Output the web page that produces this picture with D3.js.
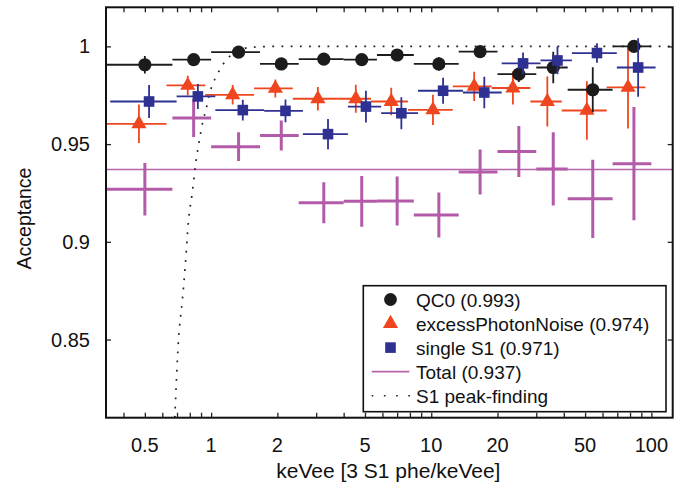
<!DOCTYPE html>
<html>
<head>
<meta charset="utf-8">
<script src="https://cdn.jsdelivr.net/npm/d3@7"></script>
<style>
  html, body { margin: 0; padding: 0; background: #fff; }
  svg { display: block; font-family: "Liberation Sans", Arial, Helvetica, sans-serif; }
</style>
</head>
<body>
<svg id="chart" width="683" height="488"></svg>
<script>
// ---------------- data ----------------
const binLo  = [0.333, 0.667, 1.0, 1.667, 2.5, 4.0, 5.667, 8.333, 13.33, 20, 30, 41.67, 66.67];
const binHi  = [0.667, 1.0, 1.667, 2.5, 4.0, 5.667, 8.333, 13.33, 20, 30, 41.67, 66.67, 100];
const binMid = [0.5, 0.833, 1.333, 2.083, 3.25, 4.833, 7.0, 10.83, 16.67, 25, 35.83, 54.17, 83.33];

const qc0Val   = [0.9906, 0.9932, 0.9971, 0.9910, 0.9935, 0.9932, 0.9956, 0.9910, 0.9973, 0.9858, 0.9892, 0.9778, 1.0000];
const qc0Err   = [0.0045, 0.0030, 0.0025, 0.0030, 0.0025, 0.0025, 0.0025, 0.0035, 0.0025, 0.0040, 0.0080, 0.0115, 0.0030];

const epnVal   = [0.9604, 0.9800, 0.9752, 0.9785, 0.9732, 0.9732, 0.9718, 0.9675, 0.9795, 0.9787, 0.9718, 0.9672, 0.9790];
const epnErr   = [0.0098, 0.0050, 0.0050, 0.0046, 0.0060, 0.0072, 0.0070, 0.0077, 0.0075, 0.0085, 0.0128, 0.0150, 0.0210];

const s1Val    = [0.9718, 0.9744, 0.9674, 0.9670, 0.9551, 0.9692, 0.9658, 0.9773, 0.9764, 0.9913, 0.9928, 0.9966, 0.9892];
const s1Err    = [0.0085, 0.0064, 0.0053, 0.0058, 0.0077, 0.0081, 0.0082, 0.0066, 0.0081, 0.0056, 0.0071, 0.0050, 0.0150];

const totVal   = [0.9269, 0.9633, 0.9487, 0.9544, 0.9200, 0.9207, 0.9209, 0.9137, 0.9357, 0.9462, 0.9373, 0.9220, 0.9400];
const totErr   = [0.0134, 0.0097, 0.0073, 0.0077, 0.0105, 0.0130, 0.0125, 0.0115, 0.0115, 0.0130, 0.0187, 0.0200, 0.0290];

const totalMean = 0.937;

const peakX = [0.684, 0.711, 0.740, 0.762, 0.789, 0.820, 0.849, 0.873, 0.889, 0.920, 0.946, 0.980, 1.021, 1.065, 1.120, 1.175, 1.250, 1.350, 1.500, 2.0, 5.0, 10, 20, 50, 125];
const peakY = [0.810, 0.850, 0.870, 0.8869, 0.9105, 0.9248, 0.9390, 0.9484, 0.9535, 0.9624, 0.9672, 0.9750, 0.9812, 0.9855, 0.9900, 0.9932, 0.9960, 0.9980, 0.9995, 1.0, 1.0, 1.0, 1.0, 1.0, 1.0];

const xTickLabels = [0.5, 1, 2, 5, 10, 20, 50, 100];
const xTickAll = [0.4,0.5,0.6,0.7,0.8,0.9,1,2,3,4,5,6,7,8,9,10,20,30,40,50,60,70,80,90,100];
const yTickLabels = [0.85, 0.9, 0.95, 1];

const legendLabels = ["QC0 (0.993)", "excessPhotonNoise (0.974)", "single S1 (0.971)", "Total (0.937)", "S1 peak-finding"];

// ---------------- layout ----------------
const L = 106, R = 672.7, T = 7.3, B = 417.7;
const COL = { qc0: "#1c1c1c", epn: "#f0461f", s1: "#2e3092", tot: "#b35aa8", totLine: "#b864ad" };
const dodge = { epn: 0.94, qc0: 1.0, s1: 1.045, tot: 1.0 };

const svg = d3.select("#chart");
const x = d3.scaleLog().domain([0.333, 125]).range([L, R]);
const y = d3.scaleLinear().domain([0.81, 1.02]).range([B, T]);

svg.append("clipPath").attr("id", "clip").append("rect")
  .attr("x", L).attr("y", T).attr("width", R - L).attr("height", B - T);
const plot = svg.append("g").attr("clip-path", "url(#clip)");

// total mean line
plot.append("line").attr("x1", L).attr("x2", R)
  .attr("y1", y(totalMean)).attr("y2", y(totalMean))
  .attr("stroke", COL.totLine).attr("stroke-width", 1.6);

function errorBars(vals, errs, color, dg, width) {
  const g = plot.append("g").attr("stroke", color).attr("stroke-width", width).attr("fill", "none");
  vals.forEach((v, i) => {
    g.append("line").attr("x1", x(binLo[i] * dg)).attr("x2", x(binHi[i] * dg))
      .attr("y1", y(v)).attr("y2", y(v));
    g.append("line").attr("x1", x(binMid[i] * dg)).attr("x2", x(binMid[i] * dg))
      .attr("y1", y(v - errs[i])).attr("y2", y(v + errs[i]));
  });
}

// Total crosses
errorBars(totVal, totErr, COL.tot, dodge.tot, 3);

// S1 peak-finding dotted curve
plot.append("path")
  .datum(peakX.map((d, i) => [d, peakY[i]]))
  .attr("d", d3.line().x(d => x(d[0])).y(d => y(d[1])).curve(d3.curveMonotoneX))
  .attr("fill", "none").attr("stroke", "#222").attr("stroke-width", 1.7)
  .attr("stroke-dasharray", "1.8,7.4");

// excessPhotonNoise
errorBars(epnVal, epnErr, COL.epn, dodge.epn, 1.8);
plot.append("g").selectAll("path").data(epnVal).join("path")
  .attr("d", d3.symbol(d3.symbolTriangle, 100)())
  .attr("transform", (d, i) => `translate(${x(binMid[i] * dodge.epn)},${y(d)})`)
  .attr("fill", COL.epn);

// QC0
errorBars(qc0Val, qc0Err, COL.qc0, dodge.qc0, 1.8);
plot.append("g").selectAll("circle").data(qc0Val).join("circle")
  .attr("cx", (d, i) => x(binMid[i] * dodge.qc0)).attr("cy", d => y(d))
  .attr("r", 6.6).attr("fill", COL.qc0);

// single S1
errorBars(s1Val, s1Err, COL.s1, dodge.s1, 1.8);
plot.append("g").selectAll("rect").data(s1Val).join("rect")
  .attr("x", (d, i) => x(binMid[i] * dodge.s1) - 5.3).attr("y", d => y(d) - 5.3)
  .attr("width", 10.6).attr("height", 10.6).attr("fill", COL.s1);

// ---------------- axes ----------------
const axB = svg.append("g").attr("transform", `translate(0,${B})`)
  .call(d3.axisBottom(x).tickValues(xTickAll).tickSizeInner(-5).tickSizeOuter(0).tickFormat(""));
const axT = svg.append("g").attr("transform", `translate(0,${T})`)
  .call(d3.axisTop(x).tickValues(xTickAll).tickSizeInner(-5).tickSizeOuter(0).tickFormat(""));
const axL = svg.append("g").attr("transform", `translate(${L},0)`)
  .call(d3.axisLeft(y).tickValues(yTickLabels).tickSizeInner(-5).tickSizeOuter(0).tickFormat(""));
const axR = svg.append("g").attr("transform", `translate(${R},0)`)
  .call(d3.axisRight(y).tickValues(yTickLabels).tickSizeInner(-5).tickSizeOuter(0).tickFormat(""));
[axB, axT, axL, axR].forEach(a => {
  a.select(".domain").remove();
  a.selectAll(".tick line").attr("stroke", "#222").attr("stroke-width", 1.3);
});

// tick labels
svg.append("g").selectAll("text").data(xTickLabels).join("text")
  .attr("x", d => x(d)).attr("y", B + 34)
  .attr("text-anchor", "middle").attr("font-size", 20).attr("fill", "#111")
  .text(d => d);
svg.append("g").selectAll("text").data(yTickLabels).join("text")
  .attr("x", L - 16).attr("y", d => y(d) + 7)
  .attr("text-anchor", "end").attr("font-size", 20).attr("fill", "#111")
  .text(d => d);

// frame
svg.append("rect").attr("x", L).attr("y", T).attr("width", R - L).attr("height", B - T)
  .attr("fill", "none").attr("stroke", "#111").attr("stroke-width", 2);

// axis titles
svg.append("text").attr("x", (L + R) / 2 - 1).attr("y", 478)
  .attr("text-anchor", "middle").attr("font-size", 21).attr("fill", "#111")
  .text("keVee [3 S1 phe/keVee]");
svg.append("text").attr("transform", `translate(31,${(T + B) / 2 + 6}) rotate(-90)`)
  .attr("text-anchor", "middle").attr("font-size", 19.5).attr("fill", "#111")
  .text("Acceptance");

// ---------------- legend ----------------
const lg = svg.append("g");
lg.append("rect").attr("x", 363.3).attr("y", 285.7).attr("width", 302.7).attr("height", 126)
  .attr("fill", "#fff").attr("stroke", "#111").attr("stroke-width", 1.6);
const rowY = d3.scaleLinear().domain([0, 4]).range([299.5, 395.7]);
const mx = 390.5;
lg.append("circle").attr("cx", mx).attr("cy", rowY(0)).attr("r", 6.4).attr("fill", COL.qc0);
lg.append("path").attr("d", d3.symbol(d3.symbolTriangle, 100)())
  .attr("transform", `translate(${mx},${rowY(1)})`).attr("fill", COL.epn);
lg.append("rect").attr("x", mx - 5.3).attr("y", rowY(2) - 5.3).attr("width", 10.6).attr("height", 10.6).attr("fill", COL.s1);
lg.append("line").attr("x1", 371.7).attr("x2", 409.3).attr("y1", rowY(3)).attr("y2", rowY(3))
  .attr("stroke", COL.totLine).attr("stroke-width", 1.8);
lg.append("line").attr("x1", 371.7).attr("x2", 410).attr("y1", rowY(4)).attr("y2", rowY(4))
  .attr("stroke", "#222").attr("stroke-width", 1.6).attr("stroke-dasharray", "1.6,10.6");
lg.selectAll("text.lab").data(legendLabels).join("text").attr("class", "lab")
  .attr("x", 416).attr("y", (d, i) => rowY(i) + 7)
  .attr("font-size", 19).attr("fill", "#111")
  .text(d => d);
</script>
</body>
</html>
